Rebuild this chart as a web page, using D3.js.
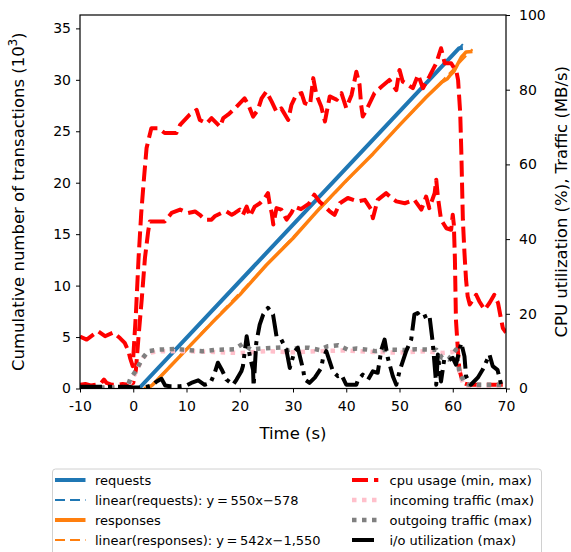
<!DOCTYPE html>
<html><head><meta charset="utf-8">
<script src="https://cdn.jsdelivr.net/npm/d3@7"></script>
<style>body{margin:0;background:#fff}svg{display:block;font-family:"DejaVu Sans",sans-serif}</style>
</head><body><svg id="c" width="571" height="552"></svg>
<script>
// ---- data (time in s) ----
const xTicks = [-10,0,10,20,30,40,50,60,70];
const yLeftTicks = [0,5,10,15,20,25,30,35];
const yRightTicks = [0,20,40,60,80,100];
const requests = [[-0.3,0],[1.05,0],[61.2,33.08],[61.9,33.1]];
const responses = [[2,0],[2.9,0.08],[3.5,0.3],[4.4,0.75],[5,1.1],[10,3.8],[15,6.5],[20,9.1],[25,12.0],[30,14.6],[35,17.5],[40,20.2],[45,22.8],[50,25.6],[55,28.3],[58,29.8],[59,30.1],[59.6,30.5],[60.2,30.8],[61,31.6],[61.6,32.2],[62.5,32.7],[63.7,32.75]];
const fitReq = {slope:550, intercept:-578, from:1.05, to:61.9};
const fitResp = {slope:542, intercept:-1550, from:2.86, to:63.7};
const cpuMax = [[-10,13.9],[-8.75,13.1],[-7.5,14.4],[-6.6,15.3],[-5.3,14],[-3.75,15],[-2.5,13.5],[-1.6,12.2],[-0.9,10],[-0.6,8.2],[-0.1,6],[0.5,20],[1,35],[1.5,47],[2,56],[2.5,64.4],[3.4,69.7],[4.7,69.7],[5.9,68.4],[8.1,68.4],[8.8,70.6],[10.6,73.3],[11.9,74.6],[12.5,71.9],[13.8,71],[14.7,72.4],[16.3,70.1],[16.9,72.4],[17.8,73.3],[19.1,75],[20.9,77.7],[21.6,76],[22.5,72.8],[23.4,74.6],[24.1,77.7],[25,79.5],[26,76.8],[26.9,74.1],[27.8,75],[29.1,71.9],[29.7,75.9],[30.6,78.6],[31.6,79.1],[32.2,76.4],[33.2,75.9],[33.8,83.1],[34.4,78.6],[35.3,75.5],[36,71.5],[36.9,78.2],[38.2,77.3],[39.1,79.1],[40,75.1],[41,78.6],[41.9,84.8],[42.5,81.3],[42.8,75.9],[43.1,72.8],[44.1,75.5],[45.3,79.1],[46.6,80.8],[48.1,82.6],[49.4,79.9],[50,85.3],[50.6,82.2],[51.6,81.3],[52.5,80.4],[53.5,84],[54.4,80.4],[55.6,83.5],[56.9,87.1],[57.8,91.1],[58.5,87.1],[59.7,87.1],[60.7,84.8],[61,82.6],[61.4,73.8],[61.6,63.9],[61.9,45.2],[62.2,36.3],[62.5,29.1],[62.8,24.7],[63.2,22.5],[64.4,25.1],[65,23.3],[66,21.1],[66.9,22.9],[67.8,25.1],[68.5,22.9],[69.1,18.4],[69.4,16.2],[70,15]];
const cpuMin = [[-10,1],[-9,1.2],[-8,0.8],[-7,1],[-6,1.5],[-5.5,2.4],[-5,1.5],[-4,1],[-3,1],[-2,1.2],[-1,1],[0,1.5],[0.5,5],[1,14],[1.6,24],[2.2,35],[2.8,42],[3.1,44.7],[5.9,44.7],[7.2,47],[8.8,47.9],[10.3,47],[11.6,47.4],[12.5,46.5],[13.5,45.2],[14.7,45.2],[15.3,46.1],[16.6,47],[17.5,47.4],[18.5,46.5],[19.1,47],[20,47.9],[20.6,46.5],[21.3,48.7],[21.9,46.1],[22.8,48.7],[23.8,49.6],[24.7,51],[25.3,52.3],[25.6,49.6],[26,47],[26.3,43.9],[26.9,48.3],[27.8,47.9],[28.8,45.2],[29.7,47],[30.3,48.7],[31.5,48],[33,49.5],[34,51.9],[35,50],[36,48.7],[36.9,47.4],[37.8,46.5],[38.8,49.6],[40.3,51],[42.2,50.1],[43.5,50.5],[44.7,47.9],[45,45.6],[45.9,50.5],[47.5,52.3],[48.5,51],[49.4,50.1],[51,49.6],[52.8,50.5],[54.1,47.9],[55,51.4],[55.6,48.3],[56.6,52.3],[56.9,55.9],[57.2,51.4],[57.8,45.2],[58.8,42.9],[59.7,42.5],[60,46.5],[60.2,44],[60.4,35],[60.6,18.4],[61,9.5],[61.25,5],[61.9,1.5],[63,1],[70,1]];
const trafficIn = [[-10,0.2],[-2,0.2],[-1,0.6],[0,3],[1,6],[2,8.5],[3,9.6],[5,10],[10,10],[15,9.8],[20,9.5],[25,10],[30,9.7],[35,10],[40,10.2],[45,9.8],[50,9.6],[55,10],[58,9.5],[60,9.8],[61,6],[61.5,3],[62,1.2],[63,0.6],[70,0.6]];
const trafficOut = [[-10,0.3],[-2,0.3],[-1,0.8],[-0.6,2.4],[0.6,5],[1.6,7.8],[2.8,10],[4.7,10.4],[8,10.6],[10,10.3],[13,10],[16,10.4],[19,10.5],[20.6,12],[22,10.5],[25,10.8],[27.8,11],[29,10.2],[31,10.9],[33,10.9],[35,10.3],[36.5,11.3],[38.5,11.6],[40.3,10.4],[42,10.7],[44,10.4],[45.5,10],[48,10.4],[51,10.3],[53,10.5],[55.6,10.4],[56.9,10.4],[58,8.2],[59.2,7.8],[60.6,10.4],[61.2,5],[61.6,3.3],[62.2,1.5],[63,1],[70,1]];
const ioUtil = [[-10,0.5],[-5,0.5],[-1,0.5],[0,0.3],[2,0.3],[3.5,0.8],[4.4,1.9],[5.3,2.6],[6,0.8],[6.9,0.6],[8.75,0.6],[10,0.8],[10.9,1.5],[12.2,2.2],[13.4,1],[14.5,1.5],[15.3,4.2],[15.9,6.9],[16.6,5.1],[17.5,2.4],[18.75,1],[19.4,2.4],[20.3,4.6],[20.6,6],[21.3,14],[21.9,8.6],[22.5,5],[22.6,0.6],[22.8,5],[23.1,12.2],[23.75,17.1],[24.4,19.8],[25.3,21.6],[26.25,19.8],[26.6,16.7],[26.9,14],[27.8,13.1],[28.75,10.4],[29.4,5.5],[30.3,10],[30.9,10.9],[31.9,5.1],[32.2,2.4],[33.1,1.5],[34.1,2.9],[35.3,5.5],[35.6,7.8],[36.25,10],[37.5,4.6],[38.4,3.3],[39.1,3.7],[40,1],[41.9,1],[42.2,2.4],[43.1,3.7],[44.1,2.4],[45,4.6],[45.9,4.2],[46.6,10.4],[47.2,13.1],[47.8,8.2],[48.75,3.3],[49.4,1],[50,4.6],[51.25,10],[52.2,13.1],[52.8,19.8],[53.4,20.2],[54.1,18.9],[55.6,19.8],[56.25,12.2],[56.9,1],[57.2,9.1],[57.8,1.9],[58.4,7.8],[59.2,7.5],[60,8.2],[60.6,6.4],[61.6,12.2],[62.2,8.6],[62.5,3.3],[63.4,1],[64.7,2.9],[65.6,5],[66.9,9.1],[67.5,6],[68.4,5],[69.1,1],[70,0.5]];
const legendLabels = ["requests","linear(requests): y\u2009=\u2009550x\u2212578","responses","linear(responses): y\u2009=\u2009542x\u22121,550","cpu usage (min, max)","incoming traffic (max)","outgoing traffic (max)","i/o utilization (max)"];

// ---- layout ----
const svg = d3.select("#c");
const L=80, R=506, T=15, B=388.5;
const x = d3.scaleLinear().domain([-10,70]).range([L,R]);
const yL = d3.scaleLinear().domain([0,36.3]).range([B,T]);
const yR = d3.scaleLinear().domain([0,100]).range([B,T]);
const C = {blue:"#1f77b4", orange:"#ff7f0e", red:"#ff0000", pink:"#ffc0cb", grey:"#808080", black:"#000"};

svg.append("clipPath").attr("id","clip").append("rect").attr("x",L).attr("y",T).attr("width",R-L).attr("height",B-T);
const g = svg.append("g").attr("clip-path","url(#clip)");
const lineL = d3.line().x(d=>x(d[0])).y(d=>yL(d[1]));
const lineR = d3.line().x(d=>x(d[0])).y(d=>yR(d[1]));
function fitPts(f){return [f.from,f.to].map(t=>[t,(f.slope*t+f.intercept)/1000]);}

function draw(data, line, color, w, dash){
  g.append("path").datum(data).attr("d",line).attr("fill","none").attr("stroke",color)
   .attr("stroke-width",w).attr("stroke-dasharray",dash||null).attr("stroke-linejoin","round");
}
draw(fitPts(fitReq), lineL, C.blue, 2, "10,5");
draw(requests, lineL, C.blue, 4);
draw(fitPts(fitResp), lineL, C.orange, 2, "10,5");
draw(responses, lineL, C.orange, 3.5);
draw(cpuMin, lineR, C.red, 4, "16,6");
draw(cpuMax, lineR, C.red, 4, "16,6");
draw(trafficIn, lineR, C.pink, 4.5, "4.5,5.5");
draw(trafficOut, lineR, C.grey, 4.5, "4.5,5.5");
draw(ioUtil, lineR, C.black, 4, "22,6,4,6");

// ---- axes ----
const fs = 14;
function styleAxis(sel){
  sel.select(".domain").remove();
  sel.selectAll(".tick line").attr("stroke","#000").attr("stroke-width",1);
  sel.selectAll(".tick text").attr("font-size",fs).attr("font-family","DejaVu Sans").attr("fill","#000");
}
svg.append("g").attr("transform",`translate(0,${B})`)
  .call(d3.axisBottom(x).tickValues(xTicks).tickSize(4).tickPadding(9).tickFormat(d=>String(d)))
  .call(styleAxis);
svg.append("g").attr("transform",`translate(${L},0)`)
  .call(d3.axisLeft(yL).tickValues(yLeftTicks).tickSize(4).tickPadding(5).tickFormat(d=>String(d)))
  .call(styleAxis);
svg.append("g").attr("transform",`translate(${R},0)`)
  .call(d3.axisRight(yR).tickValues(yRightTicks).tickSize(4).tickPadding(9).tickFormat(d=>String(d)))
  .call(styleAxis);
svg.append("rect").attr("x",L).attr("y",T).attr("width",R-L).attr("height",B-T)
  .attr("fill","none").attr("stroke","#000").attr("stroke-width",1.2);

// labels
svg.append("text").attr("x",(L+R)/2).attr("y",438.5).attr("text-anchor","middle")
  .attr("font-size",16.5).text("Time (s)");
const ly = svg.append("text").attr("transform",`translate(24,${(T+B)/2}) rotate(-90)`)
  .attr("text-anchor","middle").attr("font-size",16.5);
ly.append("tspan").text("Cumulative number of transactions (10");
ly.append("tspan").attr("font-size",11.5).attr("dy",-7).text("3");
ly.append("tspan").attr("dy",7).text(")");
svg.append("text").attr("transform",`translate(567,${(T+B)/2}) rotate(-90)`)
  .attr("text-anchor","middle").attr("font-size",16.5).text("CPU utilization (%), Traffic (MB/s)");

// ---- legend ----
const lg = svg.append("g");
lg.append("rect").attr("x",52.5).attr("y",469).attr("width",489).attr("height",100).attr("rx",3)
  .attr("fill","#fff").attr("stroke","#d0d0d0").attr("stroke-width",1);
const items = [
  {c:C.blue,w:4,d:null,col:0,row:0},
  {c:C.blue,w:2,d:"10,5",col:0,row:1},
  {c:C.orange,w:4,d:null,col:0,row:2},
  {c:C.orange,w:2,d:"10,5",col:0,row:3},
  {c:C.red,w:4,d:"16,6",col:1,row:0},
  {c:C.pink,w:4.5,d:"4.5,5.5",col:1,row:1},
  {c:C.grey,w:4.5,d:"4.5,5.5",col:1,row:2},
  {c:C.black,w:4,d:"22,6,4,6",col:1,row:3}
];
const colX = [[55,85.5,95],[352,378.3,389.5]];
items.forEach((it,i)=>{
  const yy = 480 + it.row*20;
  const cx = colX[it.col];
  lg.append("line").attr("x1",cx[0]).attr("x2",cx[1]).attr("y1",yy).attr("y2",yy)
    .attr("stroke",it.c).attr("stroke-width",it.w).attr("stroke-dasharray",it.d);
  lg.append("text").attr("x",cx[2]).attr("y",yy+4.6).attr("font-size",13).text(legendLabels[i]);
});
</script></body></html>
